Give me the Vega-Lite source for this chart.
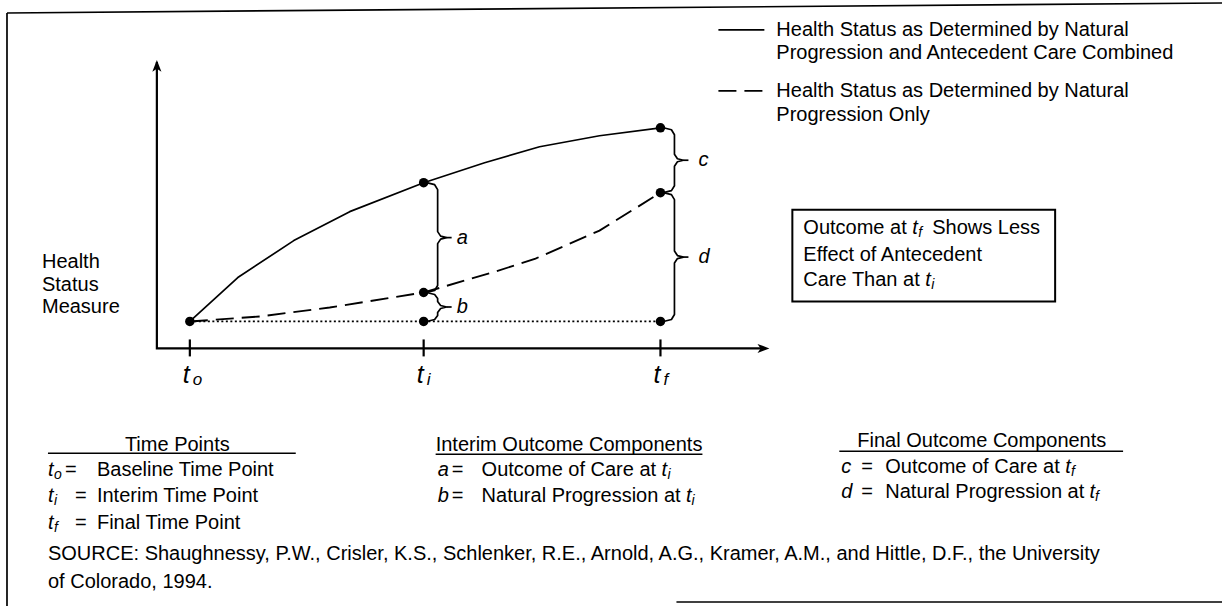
{
  "$schema": "https://vega.github.io/schema/vega-lite/v6.json",
  "width": 1223,
  "height": 607,
  "autosize": {"type": "fit", "contains": "padding"},
  "padding": 0,
  "background": "white",
  "config": {"view": {"stroke": null}, "font": "Liberation Sans"},
  "datasets": {
    "segs": [
      {"id": "bl", "k": "solid", "w": "thin", "o": 0, "x": -18.3, "y": 30.9},
      {"id": "bl", "k": "solid", "w": "thin", "o": 1, "x": -18.3, "y": -28.5},
      {"id": "bt", "k": "solid", "w": "thin", "o": 0, "x": -18.3, "y": 30.9},
      {"id": "bt", "k": "solid", "w": "thin", "o": 1, "x": 103.3, "y": 31.9},
      {"id": "bb", "k": "solid", "w": "thin", "o": 0, "x": 48.7, "y": -28.1},
      {"id": "bb", "k": "solid", "w": "thin", "o": 1, "x": 103.3, "y": -28.1},
      {"id": "ax", "k": "solid", "w": "thick", "o": 0, "x": -3.3, "y": 26.0},
      {"id": "ax", "k": "solid", "w": "thick", "o": 1, "x": -3.3, "y": -2.7},
      {"id": "ax", "k": "solid", "w": "thick", "o": 2, "x": 57.6, "y": -2.7},
      {"id": "tk0", "k": "solid", "w": "thick", "o": 0, "x": 0, "y": -1.8},
      {"id": "tk0", "k": "solid", "w": "thick", "o": 1, "x": 0, "y": -3.5},
      {"id": "tk1", "k": "solid", "w": "thick", "o": 0, "x": 23.4, "y": -1.8},
      {"id": "tk1", "k": "solid", "w": "thick", "o": 1, "x": 23.4, "y": -3.5},
      {"id": "tk2", "k": "solid", "w": "thick", "o": 0, "x": 47.1, "y": -1.8},
      {"id": "tk2", "k": "solid", "w": "thick", "o": 1, "x": 47.1, "y": -3.5},
      {"id": "legS", "k": "solid", "w": "thin", "o": 0, "x": 52.9, "y": 29.2},
      {"id": "legS", "k": "solid", "w": "thin", "o": 1, "x": 57.5, "y": 29.2},
      {"id": "solid", "k": "solid", "w": "thin", "o": 0, "x": 0, "y": 0},
      {"id": "solid", "k": "solid", "w": "thin", "o": 1, "x": 4.8, "y": 4.4},
      {"id": "solid", "k": "solid", "w": "thin", "o": 2, "x": 10.4, "y": 8.1},
      {"id": "solid", "k": "solid", "w": "thin", "o": 3, "x": 16, "y": 11},
      {"id": "solid", "k": "solid", "w": "thin", "o": 4, "x": 23.4, "y": 13.9},
      {"id": "solid", "k": "solid", "w": "thin", "o": 5, "x": 29.5, "y": 15.9},
      {"id": "solid", "k": "solid", "w": "thin", "o": 6, "x": 35, "y": 17.5},
      {"id": "solid", "k": "solid", "w": "thin", "o": 7, "x": 41, "y": 18.6},
      {"id": "solid", "k": "solid", "w": "thin", "o": 8, "x": 47.1, "y": 19.4},
      {"id": "ba", "k": "solid", "w": "thin", "o": 0, "x": 23.7, "y": 13.9},
      {"id": "ba", "k": "solid", "w": "thin", "o": 1, "x": 24.5, "y": 13.7},
      {"id": "ba", "k": "solid", "w": "thin", "o": 2, "x": 24.8, "y": 13.2},
      {"id": "ba", "k": "solid", "w": "thin", "o": 3, "x": 24.8, "y": 9.0},
      {"id": "ba", "k": "solid", "w": "thin", "o": 4, "x": 25.1, "y": 8.55},
      {"id": "ba", "k": "solid", "w": "thin", "o": 5, "x": 25.7, "y": 8.4},
      {"id": "ba", "k": "solid", "w": "thin", "o": 6, "x": 25.1, "y": 8.25},
      {"id": "ba", "k": "solid", "w": "thin", "o": 7, "x": 24.8, "y": 7.8},
      {"id": "ba", "k": "solid", "w": "thin", "o": 8, "x": 24.8, "y": 3.6},
      {"id": "ba", "k": "solid", "w": "thin", "o": 9, "x": 24.5, "y": 3.1},
      {"id": "ba", "k": "solid", "w": "thin", "o": 10, "x": 23.7, "y": 2.9},
      {"id": "bat", "k": "solid", "w": "thin", "o": 0, "x": 25.7, "y": 8.4},
      {"id": "bat", "k": "solid", "w": "thin", "o": 1, "x": 26.2, "y": 8.4},
      {"id": "bbr", "k": "solid", "w": "thin", "o": 0, "x": 23.7, "y": 2.9},
      {"id": "bbr", "k": "solid", "w": "thin", "o": 1, "x": 24.5, "y": 2.7},
      {"id": "bbr", "k": "solid", "w": "thin", "o": 2, "x": 24.8, "y": 2.3},
      {"id": "bbr", "k": "solid", "w": "thin", "o": 3, "x": 24.8, "y": 2.0},
      {"id": "bbr", "k": "solid", "w": "thin", "o": 4, "x": 25.1, "y": 1.6},
      {"id": "bbr", "k": "solid", "w": "thin", "o": 5, "x": 25.7, "y": 1.45},
      {"id": "bbr", "k": "solid", "w": "thin", "o": 6, "x": 25.1, "y": 1.3},
      {"id": "bbr", "k": "solid", "w": "thin", "o": 7, "x": 24.8, "y": 0.9},
      {"id": "bbr", "k": "solid", "w": "thin", "o": 8, "x": 24.8, "y": 0.6},
      {"id": "bbr", "k": "solid", "w": "thin", "o": 9, "x": 24.5, "y": 0.2},
      {"id": "bbr", "k": "solid", "w": "thin", "o": 10, "x": 23.7, "y": 0},
      {"id": "bbt", "k": "solid", "w": "thin", "o": 0, "x": 25.7, "y": 1.45},
      {"id": "bbt", "k": "solid", "w": "thin", "o": 1, "x": 26.2, "y": 1.45},
      {"id": "bc", "k": "solid", "w": "thin", "o": 0, "x": 47.4, "y": 19.4},
      {"id": "bc", "k": "solid", "w": "thin", "o": 1, "x": 48.2, "y": 19.2},
      {"id": "bc", "k": "solid", "w": "thin", "o": 2, "x": 48.5, "y": 18.7},
      {"id": "bc", "k": "solid", "w": "thin", "o": 3, "x": 48.5, "y": 16.75},
      {"id": "bc", "k": "solid", "w": "thin", "o": 4, "x": 48.8, "y": 16.3},
      {"id": "bc", "k": "solid", "w": "thin", "o": 5, "x": 49.4, "y": 16.15},
      {"id": "bc", "k": "solid", "w": "thin", "o": 6, "x": 48.8, "y": 16.0},
      {"id": "bc", "k": "solid", "w": "thin", "o": 7, "x": 48.5, "y": 15.55},
      {"id": "bc", "k": "solid", "w": "thin", "o": 8, "x": 48.5, "y": 13.6},
      {"id": "bc", "k": "solid", "w": "thin", "o": 9, "x": 48.2, "y": 13.1},
      {"id": "bc", "k": "solid", "w": "thin", "o": 10, "x": 47.4, "y": 12.9},
      {"id": "bct", "k": "solid", "w": "thin", "o": 0, "x": 49.4, "y": 16.15},
      {"id": "bct", "k": "solid", "w": "thin", "o": 1, "x": 49.9, "y": 16.15},
      {"id": "bd", "k": "solid", "w": "thin", "o": 0, "x": 47.4, "y": 12.9},
      {"id": "bd", "k": "solid", "w": "thin", "o": 1, "x": 48.2, "y": 12.7},
      {"id": "bd", "k": "solid", "w": "thin", "o": 2, "x": 48.5, "y": 12.2},
      {"id": "bd", "k": "solid", "w": "thin", "o": 3, "x": 48.5, "y": 7.05},
      {"id": "bd", "k": "solid", "w": "thin", "o": 4, "x": 48.8, "y": 6.6},
      {"id": "bd", "k": "solid", "w": "thin", "o": 5, "x": 49.4, "y": 6.45},
      {"id": "bd", "k": "solid", "w": "thin", "o": 6, "x": 48.8, "y": 6.3},
      {"id": "bd", "k": "solid", "w": "thin", "o": 7, "x": 48.5, "y": 5.85},
      {"id": "bd", "k": "solid", "w": "thin", "o": 8, "x": 48.5, "y": 0.7},
      {"id": "bd", "k": "solid", "w": "thin", "o": 9, "x": 48.2, "y": 0.2},
      {"id": "bd", "k": "solid", "w": "thin", "o": 10, "x": 47.4, "y": 0},
      {"id": "bdt", "k": "solid", "w": "thin", "o": 0, "x": 49.4, "y": 6.45},
      {"id": "bdt", "k": "solid", "w": "thin", "o": 1, "x": 49.9, "y": 6.45},
      {"id": "ul1", "k": "solid", "w": "thin", "o": 0, "x": -14.2, "y": -13.2},
      {"id": "ul1", "k": "solid", "w": "thin", "o": 1, "x": 10.6, "y": -13.2},
      {"id": "ul2", "k": "solid", "w": "thin", "o": 0, "x": 24.6, "y": -13.3},
      {"id": "ul2", "k": "solid", "w": "thin", "o": 1, "x": 51.3, "y": -13.3},
      {"id": "ul3", "k": "solid", "w": "thin", "o": 0, "x": 65.0, "y": -13.0},
      {"id": "ul3", "k": "solid", "w": "thin", "o": 1, "x": 93.4, "y": -13.0},
      {"id": "dash", "k": "dash", "w": "thin", "o": 0, "x": 0, "y": 0},
      {"id": "dash", "k": "dash", "w": "thin", "o": 1, "x": 7, "y": 0.5},
      {"id": "dash", "k": "dash", "w": "thin", "o": 2, "x": 14, "y": 1.4},
      {"id": "dash", "k": "dash", "w": "thin", "o": 3, "x": 23.4, "y": 2.9},
      {"id": "dash", "k": "dash", "w": "thin", "o": 4, "x": 30.6, "y": 5},
      {"id": "dash", "k": "dash", "w": "thin", "o": 5, "x": 34.6, "y": 6.3},
      {"id": "dash", "k": "dash", "w": "thin", "o": 6, "x": 41, "y": 9.1},
      {"id": "dash", "k": "dash", "w": "thin", "o": 7, "x": 47.1, "y": 12.9},
      {"id": "legD", "k": "dash", "w": "thin", "o": 0, "x": 52.9, "y": 23.1},
      {"id": "legD", "k": "dash", "w": "thin", "o": 1, "x": 57.5, "y": 23.1},
      {"id": "dot", "k": "dot", "w": "thin", "o": 0, "x": 0, "y": 0},
      {"id": "dot", "k": "dot", "w": "thin", "o": 1, "x": 47.1, "y": 0}
    ],
    "pts": [
      {"x": 0, "y": 0}, {"x": 23.4, "y": 13.9}, {"x": 23.4, "y": 2.9}, {"x": 23.4, "y": 0},
      {"x": 47.1, "y": 19.4}, {"x": 47.1, "y": 12.9}, {"x": 47.1, "y": 0}
    ],
    "arrows": [
      {"dir": "up", "x": -3.3, "y": 25.5},
      {"dir": "right", "x": 57.3, "y": -2.7}
    ],
    "box": [{"x": 60.3, "x2": 86.6, "y": 11.2, "y2": 2.0}],
    "txt": [
      {"k": "n", "x": -14.8, "y": 6.0, "t": "Health"},
      {"k": "n", "x": -14.8, "y": 3.7, "t": "Status"},
      {"k": "n", "x": -14.8, "y": 1.4, "t": "Measure"},
      {"k": "n", "x": 58.7, "y": 29.2, "t": "Health Status as Determined by Natural"},
      {"k": "n", "x": 58.7, "y": 26.9, "t": "Progression and Antecedent Care Combined"},
      {"k": "n", "x": 58.7, "y": 23.1, "t": "Health Status as Determined by Natural"},
      {"k": "n", "x": 58.7, "y": 20.7, "t": "Progression Only"},
      {"k": "n", "x": 61.4, "y": 9.4, "t": "Outcome at"},
      {"k": "i", "x": 72.3, "y": 9.4, "t": "t"},
      {"k": "s", "x": 72.9, "y": 8.9, "t": "f"},
      {"k": "n", "x": 74.3, "y": 9.4, "t": "Shows Less"},
      {"k": "n", "x": 61.4, "y": 6.7, "t": "Effect of Antecedent"},
      {"k": "n", "x": 61.4, "y": 4.2, "t": "Care Than at"},
      {"k": "i", "x": 73.6, "y": 4.2, "t": "t"},
      {"k": "s", "x": 74.2, "y": 3.7, "t": "i"},
      {"k": "T", "x": -0.7, "y": -5.4, "t": "t"},
      {"k": "S", "x": 0.3, "y": -5.9, "t": "o"},
      {"k": "T", "x": 22.7, "y": -5.4, "t": "t"},
      {"k": "S", "x": 23.7, "y": -5.9, "t": "i"},
      {"k": "T", "x": 46.4, "y": -5.4, "t": "t"},
      {"k": "S", "x": 47.4, "y": -5.9, "t": "f"},
      {"k": "L", "x": 26.7, "y": 8.4, "t": "a"},
      {"k": "L", "x": 26.7, "y": 1.45, "t": "b"},
      {"k": "L", "x": 50.9, "y": 16.15, "t": "c"},
      {"k": "L", "x": 50.9, "y": 6.45, "t": "d"},
      {"k": "n", "x": -6.5, "y": -12.4, "t": "Time Points"},
      {"k": "n", "x": 24.6, "y": -12.4, "t": "Interim Outcome Components"},
      {"k": "n", "x": 66.8, "y": -12.0, "t": "Final Outcome Components"},
      {"k": "i", "x": -14.2, "y": -14.9, "t": "t"},
      {"k": "s", "x": -13.6, "y": -15.4, "t": "o"},
      {"k": "n", "x": -12.5, "y": -14.9, "t": "="},
      {"k": "n", "x": -9.3, "y": -14.9, "t": "Baseline Time Point"},
      {"k": "i", "x": -14.2, "y": -17.5, "t": "t"},
      {"k": "s", "x": -13.6, "y": -18.0, "t": "i"},
      {"k": "n", "x": -11.5, "y": -17.5, "t": "="},
      {"k": "n", "x": -9.3, "y": -17.5, "t": "Interim Time Point"},
      {"k": "i", "x": -14.2, "y": -20.2, "t": "t"},
      {"k": "s", "x": -13.6, "y": -20.7, "t": "f"},
      {"k": "n", "x": -11.5, "y": -20.2, "t": "="},
      {"k": "n", "x": -9.3, "y": -20.2, "t": "Final Time Point"},
      {"k": "i", "x": 24.8, "y": -14.9, "t": "a"},
      {"k": "n", "x": 26.2, "y": -14.9, "t": "="},
      {"k": "n", "x": 29.2, "y": -14.9, "t": "Outcome of Care at"},
      {"k": "i", "x": 47.2, "y": -14.9, "t": "t"},
      {"k": "s", "x": 47.8, "y": -15.4, "t": "i"},
      {"k": "i", "x": 24.8, "y": -17.5, "t": "b"},
      {"k": "n", "x": 26.2, "y": -17.5, "t": "="},
      {"k": "n", "x": 29.2, "y": -17.5, "t": "Natural Progression at"},
      {"k": "i", "x": 49.65, "y": -17.5, "t": "t"},
      {"k": "s", "x": 50.2, "y": -18.0, "t": "i"},
      {"k": "i", "x": 65.2, "y": -14.6, "t": "c"},
      {"k": "n", "x": 67.2, "y": -14.6, "t": "="},
      {"k": "n", "x": 69.6, "y": -14.6, "t": "Outcome of Care at"},
      {"k": "i", "x": 87.6, "y": -14.6, "t": "t"},
      {"k": "s", "x": 88.2, "y": -15.1, "t": "f"},
      {"k": "i", "x": 65.2, "y": -17.1, "t": "d"},
      {"k": "n", "x": 67.2, "y": -17.1, "t": "="},
      {"k": "n", "x": 69.6, "y": -17.1, "t": "Natural Progression at"},
      {"k": "i", "x": 90.05, "y": -17.1, "t": "t"},
      {"k": "s", "x": 90.6, "y": -17.6, "t": "f"},
      {"k": "n", "x": -14.2, "y": -23.3, "t": "SOURCE:  Shaughnessy, P.W., Crisler, K.S., Schlenker, R.E., Arnold, A.G., Kramer, A.M., and Hittle, D.F., the University"},
      {"k": "n", "x": -14.2, "y": -26.1, "t": "of Colorado, 1994."}
    ]
  },
  "encoding": {
    "x": {"field": "x", "type": "quantitative", "scale": {"domain": [-19, 103.3], "nice": false, "zero": false}, "axis": null},
    "y": {"field": "y", "type": "quantitative", "scale": {"domain": [-28.5, 32.2], "nice": false, "zero": false}, "axis": null}
  },
  "layer": [
    {
      "data": {"name": "segs"},
      "transform": [{"filter": "datum.k == 'solid' && datum.w == 'thin'"}],
      "mark": {"type": "line", "color": "black", "strokeWidth": 1.7, "strokeJoin": "round"},
      "encoding": {"detail": {"field": "id"}, "order": {"field": "o", "type": "quantitative"}}
    },
    {
      "data": {"name": "segs"},
      "transform": [{"filter": "datum.k == 'solid' && datum.w == 'thick'"}],
      "mark": {"type": "line", "color": "black", "strokeWidth": 2.2},
      "encoding": {"detail": {"field": "id"}, "order": {"field": "o", "type": "quantitative"}}
    },
    {
      "data": {"name": "segs"},
      "transform": [{"filter": "datum.k == 'dash'"}],
      "mark": {"type": "line", "color": "black", "strokeWidth": 1.9, "strokeDash": [18, 8]},
      "encoding": {"detail": {"field": "id"}, "order": {"field": "o", "type": "quantitative"}}
    },
    {
      "data": {"name": "segs"},
      "transform": [{"filter": "datum.k == 'dot'"}],
      "mark": {"type": "line", "color": "black", "strokeWidth": 1.8, "strokeDash": [2, 2.5]},
      "encoding": {"detail": {"field": "id"}, "order": {"field": "o", "type": "quantitative"}}
    },
    {
      "data": {"name": "box"},
      "mark": {"type": "rect", "fill": null, "stroke": "black", "strokeWidth": 2},
      "encoding": {"x2": {"field": "x2"}, "y2": {"field": "y2"}}
    },
    {
      "data": {"name": "pts"},
      "mark": {"type": "point", "filled": true, "color": "black", "size": 90, "opacity": 1}
    },
    {
      "data": {"name": "arrows"},
      "transform": [{"filter": "datum.dir == 'up'"}],
      "mark": {"type": "point", "filled": true, "color": "black", "opacity": 1, "size": 196, "shape": "M0,-1L0.65,0.7L0,0.25L-0.65,0.7Z"}
    },
    {
      "data": {"name": "arrows"},
      "transform": [{"filter": "datum.dir == 'right'"}],
      "mark": {"type": "point", "filled": true, "color": "black", "opacity": 1, "size": 196, "shape": "M1,0L-0.7,0.65L-0.25,0L-0.7,-0.65Z"}
    },
    {
      "data": {"name": "txt"},
      "transform": [{"filter": "datum.k == 'n'"}],
      "mark": {"type": "text", "align": "left", "baseline": "middle", "fontSize": 20, "font": "Liberation Sans", "color": "black"},
      "encoding": {"text": {"field": "t"}}
    },
    {
      "data": {"name": "txt"},
      "transform": [{"filter": "datum.k == 'i'"}],
      "mark": {"type": "text", "align": "left", "baseline": "middle", "fontSize": 20, "fontStyle": "italic", "font": "Liberation Sans", "color": "black"},
      "encoding": {"text": {"field": "t"}}
    },
    {
      "data": {"name": "txt"},
      "transform": [{"filter": "datum.k == 's'"}],
      "mark": {"type": "text", "align": "left", "baseline": "middle", "fontSize": 14, "fontStyle": "italic", "font": "Liberation Sans", "color": "black"},
      "encoding": {"text": {"field": "t"}}
    },
    {
      "data": {"name": "txt"},
      "transform": [{"filter": "datum.k == 'L'"}],
      "mark": {"type": "text", "align": "left", "baseline": "middle", "fontSize": 20, "fontStyle": "italic", "font": "Liberation Sans", "color": "black"},
      "encoding": {"text": {"field": "t"}}
    },
    {
      "data": {"name": "txt"},
      "transform": [{"filter": "datum.k == 'T'"}],
      "mark": {"type": "text", "align": "left", "baseline": "middle", "fontSize": 25, "fontStyle": "italic", "font": "Liberation Sans", "color": "black"},
      "encoding": {"text": {"field": "t"}}
    },
    {
      "data": {"name": "txt"},
      "transform": [{"filter": "datum.k == 'S'"}],
      "mark": {"type": "text", "align": "left", "baseline": "middle", "fontSize": 17, "fontStyle": "italic", "font": "Liberation Sans", "color": "black"},
      "encoding": {"text": {"field": "t"}}
    }
  ]
}
